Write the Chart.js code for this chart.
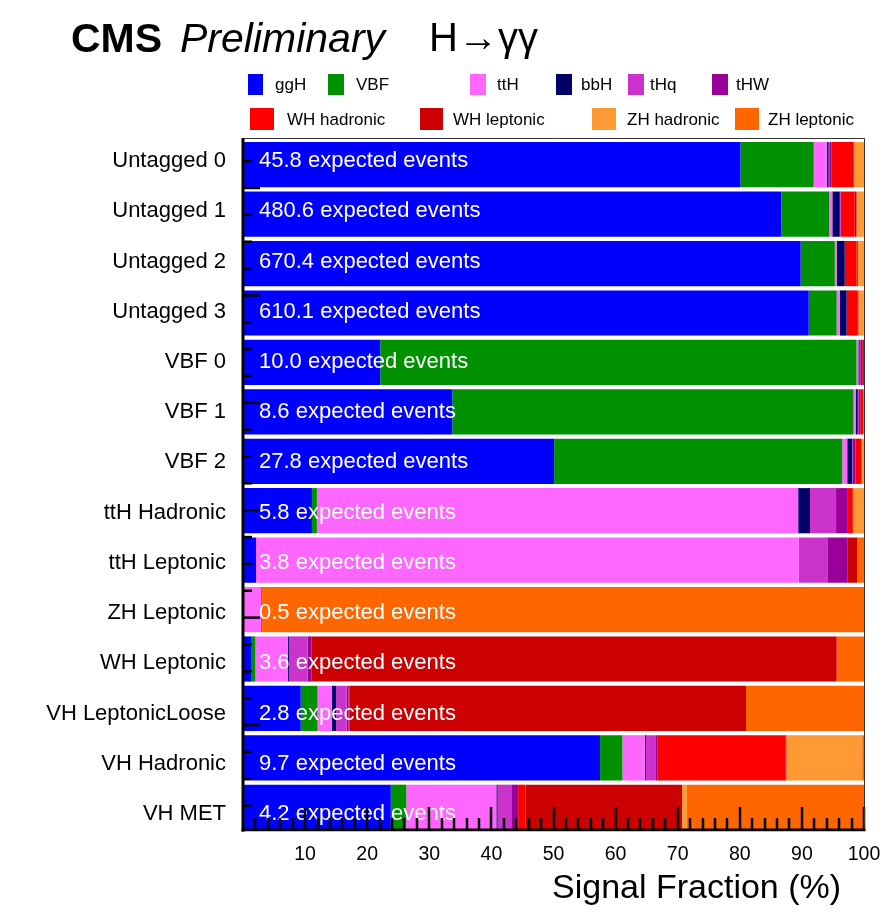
<!DOCTYPE html>
<html>
<head>
<meta charset="utf-8">
<script src="https://cdn.jsdelivr.net/npm/chart.js@4.4.1/dist/chart.umd.min.js"></script>
<style>
  html, body { margin:0; padding:0; background:#fff; }
  #wrap { position:relative; width:885px; height:920px; font-family:"Liberation Sans", Arial, sans-serif; }
  #c { position:absolute; left:0; top:0; }
  .hdr { position:absolute; white-space:nowrap; color:#000; }
  .lg { position:absolute; white-space:nowrap; font-size:17px; line-height:20px; }
  .sw { position:absolute; }
</style>
</head>
<body>
<div id="wrap">
  <canvas id="c" width="885" height="920"></canvas>
  <div class="hdr" style="left:71px; top:15px; font-size:41px; font-weight:bold;">CMS</div>
  <div class="hdr" style="left:180px; top:15px; font-size:41px; font-style:italic;">Preliminary</div>
  <div class="hdr" style="left:429px; top:15px; font-size:40px;">H→γγ</div>
  <div class="hdr" style="left:552px; top:867px; font-size:34px;">Signal Fraction (%)</div>
  <div id="legend"></div>
</div>
<script>
// ---------------- data ----------------
const categories = ["Untagged 0","Untagged 1","Untagged 2","Untagged 3","VBF 0","VBF 1","VBF 2",
  "ttH Hadronic","ttH Leptonic","ZH Leptonic","WH Leptonic","VH LeptonicLoose","VH Hadronic","VH MET"];
const expectedEvents = [45.8, 480.6, 670.4, 610.1, 10.0, 8.6, 27.8, 5.8, 3.8, 0.5, 3.6, 2.8, 9.7, 4.2];
const seriesNames = ["ggH","VBF","ttH","bbH","tHq","tHW","WH hadronic","WH leptonic","ZH hadronic","ZH leptonic"];
// signal fractions (%) per category, one array per process
const ggH        = [80.1, 86.7, 89.8, 91.1, 22.1, 33.7, 50.1, 11.1,  2.1,  0.0,  1.4,  9.3, 57.5, 23.8];
const VBF        = [11.8,  7.7,  5.5,  4.5, 76.7, 64.6, 46.4,  0.8,  0.0,  0.0,  0.6,  2.7,  3.6,  2.5];
const ttH        = [ 2.1,  0.5,  0.3,  0.5,  0.3,  0.4,  0.8, 77.5, 87.4,  2.9,  5.2,  2.3,  3.6, 14.5];
const bbH        = [ 0.3,  1.2,  1.3,  1.1,  0.2,  0.3,  0.8,  1.9,  0.0,  0.0,  0.2,  0.7,  0.2,  0.2];
const tHq        = [ 0.1,  0.1,  0.0,  0.0,  0.1,  0.1,  0.1,  4.2,  4.7,  0.0,  3.0,  1.7,  1.6,  2.2];
const tHW        = [ 0.4,  0.1,  0.0,  0.0,  0.3,  0.3,  0.4,  1.9,  3.1,  0.0,  0.6,  0.3,  0.2,  1.1];
const WHhadronic = [ 3.5,  2.2,  1.9,  1.7,  0.3,  0.5,  1.0,  0.8,  0.0,  0.0,  0.0,  0.2, 20.7,  1.2];
const WHleptonic = [ 0.1,  0.3,  0.2,  0.2,  0.0,  0.0,  0.0,  0.0,  1.6,  0.1, 84.6, 63.8,  0.1, 25.2];
const ZHhadronic = [ 1.6,  1.1,  1.0,  0.8,  0.0,  0.1,  0.4,  1.8,  0.0,  0.0,  0.0,  0.0, 12.2,  0.7];
const ZHleptonic = [ 0.0,  0.1,  0.0,  0.1,  0.0,  0.0,  0.0,  0.0,  1.1, 97.0,  4.4, 19.0,  0.3, 28.6];
const xTickLabels = ["", "10","20","30","40","50","60","70","80","90","100"];

// ---------------- styling ----------------
const colors = ["#0000ff","#009100","#ff66ff","#000066","#cc33cc","#990099","#ff0000","#cc0000","#ff9933","#ff6600"];
const seriesValues = [ggH, VBF, ttH, bbH, tHq, tHW, WHhadronic, WHleptonic, ZHhadronic, ZHleptonic];

// legend layout (positions only)
const legendPos = [
  {sx:248, sy:74, sw:15, sh:21, tx:275, ty:75}, {sx:328, sy:74, sw:16, sh:21, tx:356, ty:75},
  {sx:470, sy:74, sw:16, sh:21, tx:497, ty:75}, {sx:556, sy:74, sw:16, sh:21, tx:581, ty:75},
  {sx:628, sy:74, sw:16, sh:21, tx:650, ty:75}, {sx:712, sy:74, sw:16, sh:21, tx:736, ty:75},
  {sx:250, sy:108, sw:24, sh:22, tx:287, ty:110}, {sx:420, sy:108, sw:23, sh:22, tx:453, ty:110},
  {sx:592, sy:108, sw:24, sh:22, tx:627, ty:110}, {sx:735, sy:108, sw:24, sh:22, tx:768, ty:110}
];
const lg = document.getElementById('legend');
seriesNames.forEach((n, i) => {
  const p = legendPos[i];
  const s = document.createElement('div');
  s.className = 'sw';
  s.style.cssText = `left:${p.sx}px;top:${p.sy}px;width:${p.sw}px;height:${p.sh}px;background:${colors[i]}`;
  lg.appendChild(s);
  const t = document.createElement('div');
  t.className = 'lg';
  t.style.cssText = `left:${p.tx}px;top:${p.ty}px;`;
  t.textContent = n;
  lg.appendChild(t);
});

const PLOT = {left:243, right:864, top:140, bottom:832};
const FONT = '"Liberation Sans", Arial, sans-serif';

const overlay = {
  id: 'overlay',
  afterDatasetsDraw(chart) {
    const ctx = chart.ctx, xs = chart.scales.x, a = chart.chartArea;
    const H = a.bottom - a.top;
    // text rows are spread slightly differently from the bars (as in the original ROOT layout)
    const rowText = i => a.top + 20 + i * (H - 39) / (categories.length - 1);
    ctx.save();
    ctx.textBaseline = 'middle';
    // category labels
    ctx.fillStyle = '#000';
    ctx.font = '22px ' + FONT;
    ctx.textAlign = 'right';
    categories.forEach((c, i) => ctx.fillText(c, a.left - 17, rowText(i) + 1));
    // expected events labels
    ctx.fillStyle = '#fff';
    ctx.textAlign = 'left';
    categories.forEach((c, i) => {
      ctx.fillText(expectedEvents[i].toFixed(1) + ' expected events', xs.getPixelForValue(0) + 16, rowText(i) + 1);
    });
    // x ticks (inside, from bottom up)
    const axisY = a.bottom - 2;
    ctx.strokeStyle = '#000';
    ctx.lineWidth = 2.5;
    for (let v = 2; v <= 100; v += 2) {
      const x = Math.round(xs.getPixelForValue(v));
      const len = (v % 10 === 0) ? 23 : 12;
      ctx.beginPath(); ctx.moveTo(x, axisY); ctx.lineTo(x, axisY - len); ctx.stroke();
    }
    // y ticks (inside, from left)
    const step = H * 0.0388;
    const y0 = a.top + H * 0.0694;
    for (let k = -1; k < 30; k++) {
      const y = y0 + k * step;
      if (y < a.top + 2 || y > axisY - 2) continue;
      const len = (((k % 4) + 4) % 4 === 0) ? 17 : 9;
      ctx.beginPath(); ctx.moveTo(a.left, y); ctx.lineTo(a.left + len, y); ctx.stroke();
    }
    // frame
    ctx.lineWidth = 1;
    ctx.strokeStyle = '#333';
    ctx.beginPath(); ctx.moveTo(a.left, a.top - 1.5); ctx.lineTo(a.right + 0.5, a.top - 1.5); ctx.lineTo(a.right + 0.5, axisY); ctx.stroke();
    ctx.fillStyle = '#000';
    ctx.fillRect(a.left - 1.5, a.top - 2, 3, axisY - a.top + 3.5);
    ctx.fillRect(a.left - 1.5, axisY - 1.5, a.right - a.left + 3, 3);
    ctx.fillStyle = '#fff';
    ctx.fillRect(a.left + 1.5, axisY + 1.5, a.right - a.left, a.bottom - axisY + 1);
    ctx.restore();
  }
};

new Chart(document.getElementById('c'), {
  type: 'bar',
  data: {
    labels: categories,
    datasets: seriesNames.map((n, i) => ({
      label: n, data: seriesValues[i], backgroundColor: colors[i],
      borderWidth: 0, categoryPercentage: 1.0, barPercentage: 0.915
    }))
  },
  options: {
    indexAxis: 'y',
    responsive: false,
    animation: false,
    devicePixelRatio: 1,
    layout: { padding: { left: 0, top: PLOT.top, right: 885 - PLOT.right, bottom: 0 } },
    plugins: { legend: { display: false }, tooltip: { enabled: false } },
    scales: {
      x: {
        stacked: true, min: 0, max: 100,
        grid: { display: false, drawTicks: false }, border: { display: false },
        afterFit: s => { s.height = 920 - PLOT.bottom; s.paddingRight = 0; s.paddingLeft = 0; },
        afterBuildTicks: s => { s.ticks = xTickLabels.map((t, i) => ({ value: i * 10 })); },
        ticks: {
          autoSkip: false, maxRotation: 0, padding: 11, color: '#000',
          font: { family: FONT, size: 19.5 },
          callback: (v, i) => xTickLabels[i]
        }
      },
      y: {
        stacked: true,
        grid: { display: false, drawTicks: false }, border: { display: false },
        afterFit: s => { s.width = PLOT.left; s.paddingTop = 0; s.paddingBottom = 0; },
        ticks: { display: false }
      }
    }
  },
  plugins: [overlay]
});
</script>
</body>
</html>
